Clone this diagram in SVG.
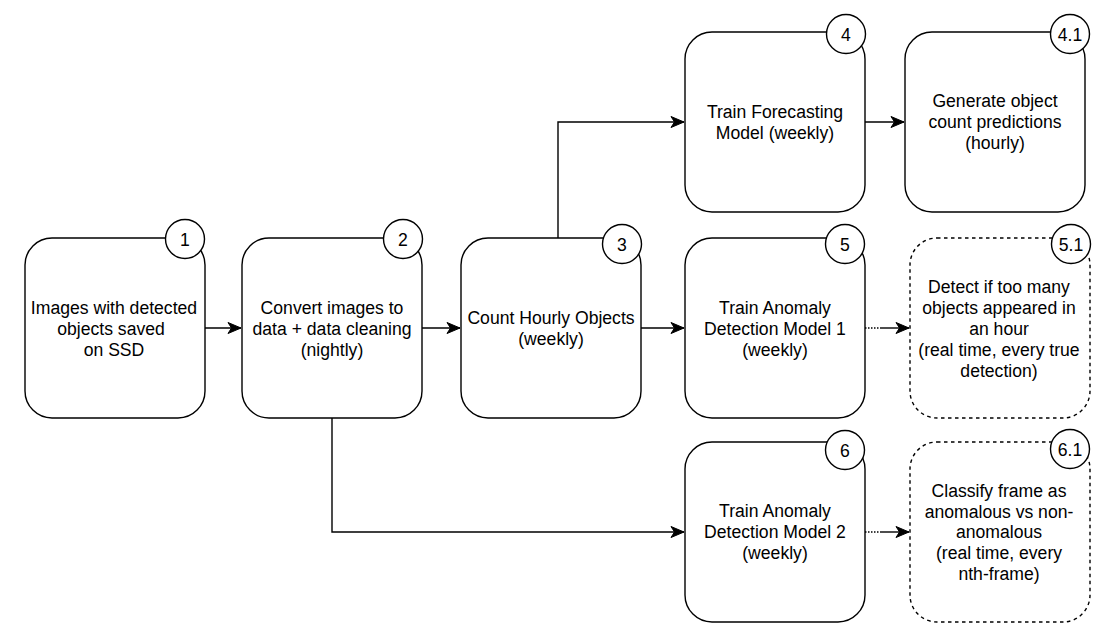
<svg xmlns="http://www.w3.org/2000/svg" width="1113" height="641" viewBox="0 0 1113 641">
<defs>
<style>
.box{fill:#fff;stroke:#000;stroke-width:1.4}
.dbox{fill:#fff;stroke:#000;stroke-width:1.4;stroke-dasharray:3.5 3.5}
.num{fill:#fff;stroke:#000;stroke-width:1.4}
text{font-family:"Liberation Sans",Arial,sans-serif;font-size:17.6px;fill:#000;text-anchor:middle}
.edge{fill:none;stroke:#000;stroke-width:1.4}
.dot{fill:none;stroke:#000;stroke-width:1.4;stroke-dasharray:1.5 1.5}
</style>
<marker id="arr" markerUnits="userSpaceOnUse" markerWidth="16" markerHeight="14" viewBox="-14 -7 16 14" refX="0" refY="0" orient="auto">
<path d="M0,0 L-13,-5.5 L-9.5,0 L-13,5.5 Z" fill="#000" stroke="#000" stroke-width="1"/>
</marker>
</defs>
<rect width="1113" height="641" fill="#fff"/>
<g id="connectors">
<path class="edge" d="M205,328 H241" marker-end="url(#arr)"/>
<path class="edge" d="M422,328 H460" marker-end="url(#arr)"/>
<path class="edge" d="M641,328 H684" marker-end="url(#arr)"/>
<path class="edge" d="M558,238 V122 H684" marker-end="url(#arr)"/>
<path class="edge" d="M332,418 V532 H684" marker-end="url(#arr)"/>
<path class="edge" d="M865,122 H904" marker-end="url(#arr)"/>
<path class="dot" d="M865,328 H880"/>
<path class="edge" d="M880,328 H909" marker-end="url(#arr)"/>
<path class="dot" d="M865,532 H880"/>
<path class="edge" d="M880,532 H909" marker-end="url(#arr)"/>
</g>
<g id="node1">
<rect class="box" x="25" y="238" width="180" height="180" rx="27"/>
<circle class="num" cx="185" cy="239" r="19.5"/>
<text x="185" y="245.5">1</text>
<text x="114" y="314">Images with detected</text>
<text x="111" y="335">objects saved</text>
<text x="114" y="356">on SSD</text>
</g>
<g id="node2">
<rect class="box" x="242" y="238" width="180" height="180" rx="27"/>
<circle class="num" cx="403" cy="239" r="19.5"/>
<text x="403" y="245.5">2</text>
<text x="332" y="314">Convert images to</text>
<text x="332" y="335">data + data cleaning</text>
<text x="332" y="356">(nightly)</text>
</g>
<g id="node3">
<rect class="box" x="461" y="238" width="180" height="180" rx="27"/>
<circle class="num" cx="622" cy="244" r="19.5"/>
<text x="622" y="250.5">3</text>
<text x="551" y="324">Count Hourly Objects</text>
<text x="551" y="345">(weekly)</text>
</g>
<g id="node4">
<rect class="box" x="685" y="32" width="180" height="180" rx="27"/>
<circle class="num" cx="846" cy="34" r="19.5"/>
<text x="846" y="40.5">4</text>
<text x="775" y="117.5">Train Forecasting</text>
<text x="775" y="138.5">Model (weekly)</text>
</g>
<g id="node4_1">
<rect class="box" x="905" y="32" width="180" height="180" rx="27"/>
<circle class="num" cx="1070" cy="34" r="19.5"/>
<text x="1070" y="40.5">4.1</text>
<text x="995" y="107">Generate object</text>
<text x="995" y="128">count predictions</text>
<text x="995" y="149">(hourly)</text>
</g>
<g id="node5">
<rect class="box" x="685" y="238" width="180" height="180" rx="27"/>
<circle class="num" cx="845" cy="244" r="19.5"/>
<text x="845" y="250.5">5</text>
<text x="775" y="314">Train Anomaly</text>
<text x="775" y="335">Detection Model 1</text>
<text x="775" y="356">(weekly)</text>
</g>
<g id="node5_1">
<rect class="dbox" x="910" y="238" width="180" height="180" rx="27"/>
<circle class="num" cx="1071" cy="244" r="19.5"/>
<text x="1071" y="250.5">5.1</text>
<text x="999" y="293">Detect if too many</text>
<text x="999" y="314">objects appeared in</text>
<text x="999" y="335">an hour</text>
<text x="999" y="356">(real time, every true</text>
<text x="999" y="377">detection)</text>
</g>
<g id="node6">
<rect class="box" x="685" y="442" width="180" height="180" rx="27"/>
<circle class="num" cx="845" cy="450" r="19.5"/>
<text x="845" y="456.5">6</text>
<text x="775" y="517">Train Anomaly</text>
<text x="775" y="538">Detection Model 2</text>
<text x="775" y="559">(weekly)</text>
</g>
<g id="node6_1">
<rect class="dbox" x="910" y="442" width="180" height="180" rx="27"/>
<circle class="num" cx="1070" cy="449" r="19.5"/>
<text x="1070" y="455.5">6.1</text>
<text x="999" y="497">Classify frame as</text>
<text x="999" y="518">anomalous vs non-</text>
<text x="999" y="538">anomalous</text>
<text x="999" y="559">(real time, every</text>
<text x="999" y="580">nth-frame)</text>
</g>
</svg>
